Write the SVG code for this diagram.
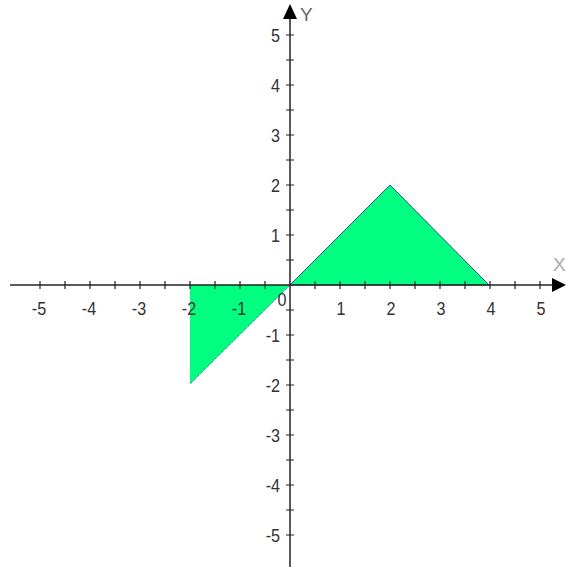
<svg xmlns="http://www.w3.org/2000/svg" width="566" height="567" viewBox="0 0 566 567">
<style>
.ax{stroke:#222;stroke-width:1.5;fill:none}
.tk{stroke:#222;stroke-width:1.2}
.lb{font-family:"Liberation Sans",Arial,sans-serif;font-size:19px;fill:#333}
.xl{text-anchor:middle}
.yl{text-anchor:end}
.shape{fill:#00ff80;stroke:#1a237e;stroke-width:0.8}
</style>
<rect width="566" height="567" fill="#fff"/>
<g id="shapes">
<polygon id="tri-right" class="shape" points="290,285 390,185 489,285"/>
<polygon id="tri-left" class="shape" points="290,285 190,285 190,384" style="stroke:none"/>
<line x1="290" y1="285" x2="190" y2="384" stroke="#1a237e" stroke-width="0.8" stroke-dasharray="1,1"/>
</g>
<g id="axes">
<line class="ax" x1="10" y1="285" x2="555" y2="285"/>
<line class="ax" x1="290" y1="567" x2="290" y2="15"/>
<polygon points="566,285 552,278 552,292" fill="#000"/>
<polygon points="290,4 283,19 297,19" fill="#000"/>
<g id="ticks" class="tk">
<path d="M40 281v8M65 281v8M90 281v8M115 281v8M140 281v8M165 281v8M190 281v8M215 281v8M240 281v8M265 281v8M315 281v8M340 281v8M365 281v8M390 281v8M415 281v8M440 281v8M465 281v8M490 281v8M515 281v8M540 281v8"/>
<path d="M286 35h8M286 60h8M286 85h8M286 110h8M286 135h8M286 160h8M286 185h8M286 210h8M286 235h8M286 260h8M286 310h8M286 335h8M286 360h8M286 385h8M286 410h8M286 435h8M286 460h8M286 485h8M286 510h8M286 535h8"/>
</g>
</g>
<g id="labels" transform="translate(0,0)">
<text class="lb xl" x="39" y="315" transform="translate(39,0) scale(0.85,1) translate(-39,0)">-5</text>
<text class="lb xl" x="89" y="315" transform="translate(89,0) scale(0.85,1) translate(-89,0)">-4</text>
<text class="lb xl" x="139" y="315" transform="translate(139,0) scale(0.85,1) translate(-139,0)">-3</text>
<text class="lb xl" x="189" y="315" transform="translate(189,0) scale(0.85,1) translate(-189,0)">-2</text>
<text class="lb xl" x="239" y="315" transform="translate(239,0) scale(0.85,1) translate(-239,0)">-1</text>
<text class="lb xl" x="282" y="306" transform="translate(282,0) scale(0.85,1) translate(-282,0)">0</text>
<text class="lb xl" x="341" y="315" transform="translate(341,0) scale(0.85,1) translate(-341,0)">1</text>
<text class="lb xl" x="391" y="315" transform="translate(391,0) scale(0.85,1) translate(-391,0)">2</text>
<text class="lb xl" x="441" y="315" transform="translate(441,0) scale(0.85,1) translate(-441,0)">3</text>
<text class="lb xl" x="491" y="315" transform="translate(491,0) scale(0.85,1) translate(-491,0)">4</text>
<text class="lb xl" x="541" y="315" transform="translate(541,0) scale(0.85,1) translate(-541,0)">5</text>
<text class="lb yl" x="280" y="42" transform="translate(280,0) scale(0.85,1) translate(-280,0)">5</text>
<text class="lb yl" x="280" y="92" transform="translate(280,0) scale(0.85,1) translate(-280,0)">4</text>
<text class="lb yl" x="280" y="142" transform="translate(280,0) scale(0.85,1) translate(-280,0)">3</text>
<text class="lb yl" x="280" y="192" transform="translate(280,0) scale(0.85,1) translate(-280,0)">2</text>
<text class="lb yl" x="280" y="242" transform="translate(280,0) scale(0.85,1) translate(-280,0)">1</text>
<text class="lb yl" x="280" y="342" transform="translate(280,0) scale(0.85,1) translate(-280,0)">-1</text>
<text class="lb yl" x="280" y="392" transform="translate(280,0) scale(0.85,1) translate(-280,0)">-2</text>
<text class="lb yl" x="280" y="442" transform="translate(280,0) scale(0.85,1) translate(-280,0)">-3</text>
<text class="lb yl" x="280" y="492" transform="translate(280,0) scale(0.85,1) translate(-280,0)">-4</text>
<text class="lb yl" x="280" y="542" transform="translate(280,0) scale(0.85,1) translate(-280,0)">-5</text>
<text class="lb" x="300" y="21" style="fill:#666">Y</text>
<text class="lb" x="553" y="271" style="fill:#aaa">X</text>
</g>
</svg>
